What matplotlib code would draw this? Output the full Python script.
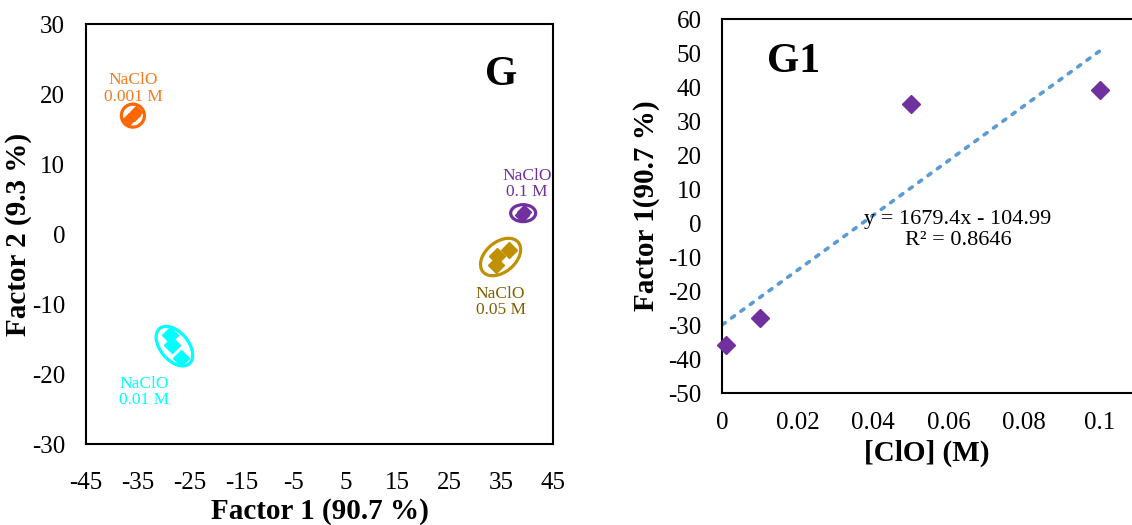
import numpy as np
from matplotlib import pyplot as plt
from matplotlib.patches import Ellipse
import matplotlib.transforms as mtransforms

plt.rcParams['font.family'] = ['Liberation Serif', 'DejaVu Serif']
plt.rcParams['axes.unicode_minus'] = False

# --- panel G : factor scores per NaClO concentration
labels = ['NaClO\n0.001 M', 'NaClO\n0.01 M', 'NaClO\n0.05 M', 'NaClO\n0.1 M']
f1_points = [[-36.8, -35.8, -35.3], [-28.8, -28.4, -26.7], [36.5, 34.2, 34.0], [39.0, 39.5]]
f2_points = [[16.4, 17.0, 17.4], [-14.4, -15.9, -17.7], [-2.3, -3.1, -4.4], [2.8, 3.2]]
marker_colors = ['#FF6600', '#00FFFF', '#BF9000', '#7030A0']
text_colors = ['#F47B20', '#00FFFF', '#806000', '#7030A0']

# --- panel G1 : factor 1 against concentration
conc = [0.001, 0.01, 0.05, 0.1]
factor1 = [-36, -28, 35, 39]
eq_text = 'y = 1679.4x - 104.99\nR² = 0.8646'

fig = plt.figure(figsize=(11.32, 5.25), dpi=100)
ax1 = fig.add_axes([0.076, 0.154, 0.4125, 0.8])
ax2 = fig.add_axes([0.638, 0.2514, 0.362, 0.7124])

###G
# ellipse size in pixels: (width, height, angle)
ell_px = [(23, 23, 0), (46, 28, -50), (46, 30, 40), (25, 17, 0)]
text_off = [(0, 27), (-30, -46), (0, -45), (4, 29)]
msizes = [6.5, 8, 8, 7]
for xs, ys, mc, tc, lab, (w, h, a), (dx, dy), ms in zip(f1_points, f2_points, marker_colors,
                                                       text_colors, labels, ell_px, text_off, msizes):
    ax1.plot(xs, ys, 'D', color=mc, markersize=ms, linestyle='none')
    cx, cy = np.mean(xs), np.mean(ys)
    tr = mtransforms.Affine2D() + mtransforms.ScaledTranslation(cx, cy, ax1.transData)
    ax1.add_patch(Ellipse((0, 0), w, h, angle=a, fill=False, edgecolor=mc, lw=2.3, transform=tr))
    ax1.annotate(lab, (cx, cy), xytext=(dx * 0.72, dy * 0.72), textcoords='offset points',
                 ha='center', va='center', color=tc, fontsize=12.5, linespacing=1.05)

ax1.set_xlim([-45, 45])
ax1.set_ylim([-30, 30])
ax1.set_xticks(np.arange(-45, 46, 10))
ax1.set_yticks(np.arange(-30, 31, 10))
ax1.tick_params(length=0, labelsize=18)
ax1.tick_params(axis='x', pad=20)
ax1.tick_params(axis='y', pad=15)
ax1.set_xlabel('Factor 1 (90.7 %)', fontsize=21, fontweight='bold', labelpad=3)
ax1.set_ylabel('Factor 2 (9.3 %)', fontsize=21, fontweight='bold')
ax1.yaxis.set_label_coords(-0.115, 0.5)
ax1.text(0.89, 0.88, 'G', transform=ax1.transAxes, fontsize=30, fontweight='bold',
         ha='center', va='center')
for s in ax1.spines.values():
    s.set_linewidth(1.5)

###G1
ax2.plot(conc, factor1, 'D', color='#7030A0', markersize=9.5, linestyle='none', clip_on=False, zorder=3)
k, b = np.polyfit(conc, factor1, 1)
xx = np.linspace(0, 0.1, 60)
ax2.plot(xx, k * xx + b, linestyle=(0, (1, 2.2)), color='#5B9BD5', lw=2.6, dash_capstyle='round')
ax2.text(0.0624, -2, eq_text, fontsize=16, ha='center', va='center', linespacing=1.1)
ax2.set_xlim([0, 0.1085])
ax2.set_ylim([-50, 60])
ax2.set_xticks([0, 0.02, 0.04, 0.06, 0.08, 0.1])
ax2.set_xticklabels(['0', '0.02', '0.04', '0.06', '0.08', '0.1'])
ax2.set_yticks(np.arange(-50, 61, 10))
ax2.tick_params(length=0, labelsize=18)
ax2.tick_params(axis='x', pad=14)
ax2.tick_params(axis='y', pad=15)
ax2.set_xlabel('[ClO] (M)', fontsize=21, fontweight='bold', labelpad=4)
ax2.set_ylabel('Factor 1(90.7 %)', fontsize=21, fontweight='bold')
ax2.yaxis.set_label_coords(-0.151, 0.5)
ax2.text(0.175, 0.885, 'G1', transform=ax2.transAxes, fontsize=30, fontweight='bold',
         ha='center', va='center')
ax2.spines['right'].set_visible(False)
for s in ['left', 'top', 'bottom']:
    ax2.spines[s].set_linewidth(1.5)

plt.savefig('out.png', dpi=100)
